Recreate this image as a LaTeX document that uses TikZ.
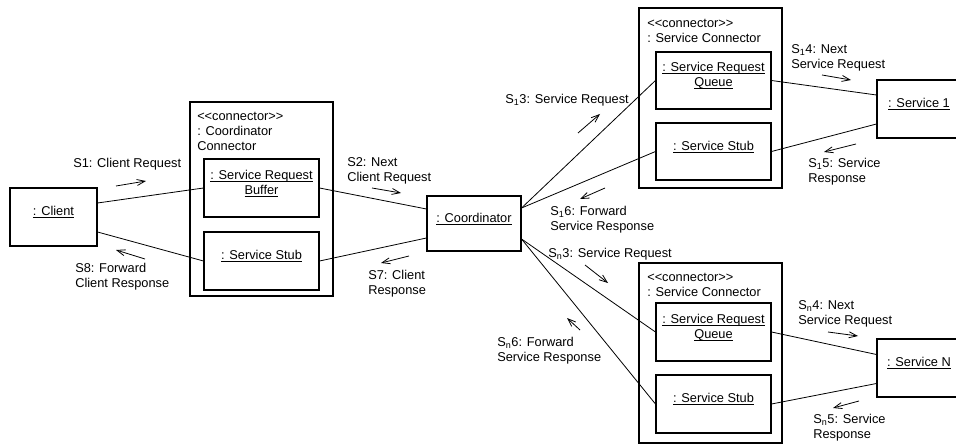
\documentclass[tikz,border=0pt]{standalone}
\usepackage{fontspec}
\setmainfont{Liberation Sans}[Ligatures=TeXOff]
\usetikzlibrary{arrows.meta,calc}
\newcommand\objtxt[1]{\underline{\smash{#1}}}
\begin{document}
\begin{tikzpicture}[x=0.75pt,y=-0.75pt,
  every node/.style={font=\fontsize{9.6pt}{11.25pt}\selectfont},
  obj/.style n args={2}{draw, line width=0.8pt, minimum width=#1*0.75pt, minimum height=#2*0.75pt, inner sep=0pt, align=center},
  lbl/.style={anchor=base west, inner sep=0pt, align=left},
  link/.style={line width=0.6pt},
  msg/.style={line width=0.6pt, -{Straight Barb[length=6pt,width=4.5pt]}}]
\useasboundingbox (0,0) rectangle (956,445);
\clip (0,0) rectangle (956,445);

% outer connector boxes
\node[obj={143}{194}] (cc) at (261.5,199) {};
\node[obj={143}{180}] (sc1) at (710.5,98) {};
\node[obj={143}{180}] (scN) at (710.5,353) {};

\node[lbl] (cclbl) at (197,150.5) {{<}\kern0pt{<}connector{>}\kern0pt{>}\\: Coordinator\\Connector};
\node[lbl] (sc1lbl) at (647,43) {{<}\kern0pt{<}connector{>}\kern0pt{>}\\: Service Connector};
\node[lbl] (scNlbl) at (647,296.5) {{<}\kern0pt{<}connector{>}\kern0pt{>}\\: Service Connector};

% objects
\node[obj={87}{58}] (client) at (53.5,217) {\objtxt{: Client}};
\node[obj={115}{58}] (buf) at (261.5,188) {\objtxt{: Service Request}\\\objtxt{Buffer}};
\node[obj={115}{58}] (cstub) at (261.5,261) {\objtxt{: Service Stub}};
\node[obj={94}{55}] (coord) at (474,223.5) {\objtxt{: Coordinator}};
\node[obj={115}{57}] (q1) at (713.5,80.5) {\objtxt{: Service Request}\\\objtxt{Queue}};
\node[obj={115}{57}] (st1) at (713.5,151.5) {\objtxt{: Service Stub}};
\node[obj={115}{58}] (qN) at (713.5,332) {\objtxt{: Service Request}\\\objtxt{Queue}};
\node[obj={115}{58}] (stN) at (713.5,404) {\objtxt{: Service Stub}};
\node[obj={84}{58}] (svc1) at (919,109) {\objtxt{: Service 1}};
\node[obj={84}{58}] (svcN) at (919,368) {\objtxt{: Service N}};

% links
\draw[link] ($(client.east)+(0,-14)$) -- (buf.west);
\draw[link] ($(client.east)+(0,15)$) -- (cstub.west);
\draw[link] (buf.east) -- ($(coord.west)+(0,-14.5)$);
\draw[link] (cstub.east) -- ($(coord.west)+(0,14.5)$);
\draw[link] ($(coord.east)+(0,-15.5)$) -- (q1.west);
\draw[link] ($(coord.east)+(0,-15.5)$) -- (st1.west);
\draw[link] ($(coord.east)+(0,15.5)$) -- (qN.west);
\draw[link] ($(coord.east)+(0,15.5)$) -- (stN.west);
\draw[link] (q1.east) -- ($(svc1.west)+(0,-14)$);
\draw[link] (st1.east) -- ($(svc1.west)+(0,15)$);
\draw[link] (qN.east) -- ($(svcN.west)+(0,-13.5)$);
\draw[link] (stN.east) -- ($(svcN.west)+(0,15.5)$);

% message labels (base = baseline of last line)
\node[lbl] (m1) at (73,167.5) {S1: Client Request};
\node[lbl] (m8) at (75,287.5) {S8: Forward\\Client Response};
\node[lbl] (m2) at (347,181.5) {S2: Next\\Client Request};
\node[lbl] (m7) at (368,294) {S7: Client\\Response};
\node[lbl] (m13) at (505,103.5) {S\textsubscript{1}3: Service Request};
\node[lbl] (m14) at (791,68.5) {S\textsubscript{1}4: Next\\Service Request};
\node[lbl] (m15) at (808,182.5) {S\textsubscript{1}5: Service\\Response};
\node[lbl] (m16) at (550,230.5) {S\textsubscript{1}6: Forward\\Service Response};
\node[lbl] (mn3) at (548,257.5) {S\textsubscript{n}3: Service Request};
\node[lbl] (mn6) at (497,361.5) {S\textsubscript{n}6: Forward\\Service Response};
\node[lbl] (mn4) at (798,324.5) {S\textsubscript{n}4: Next\\Service Request};
\node[lbl] (mn5) at (813,438) {S\textsubscript{n}5: Service\\Response};

% message arrows
\draw[msg] (116,186) -- (146,181);
\draw[msg] (145,259) -- (116,250);
\draw[msg] (372,188) -- (401,193);
\draw[msg] (409,256) -- (381,263);
\draw[msg] (578,133) -- (600,114);
\draw[msg] (822,75) -- (851,80);
\draw[msg] (856,144) -- (824,152);
\draw[msg] (605,188) -- (580,199);
\draw[msg] (585,265) -- (608,283);
\draw[msg] (580,330) -- (567,318);
\draw[msg] (828,332) -- (858,336);
\draw[msg] (859,401) -- (833,408);
\end{tikzpicture}
\end{document}
